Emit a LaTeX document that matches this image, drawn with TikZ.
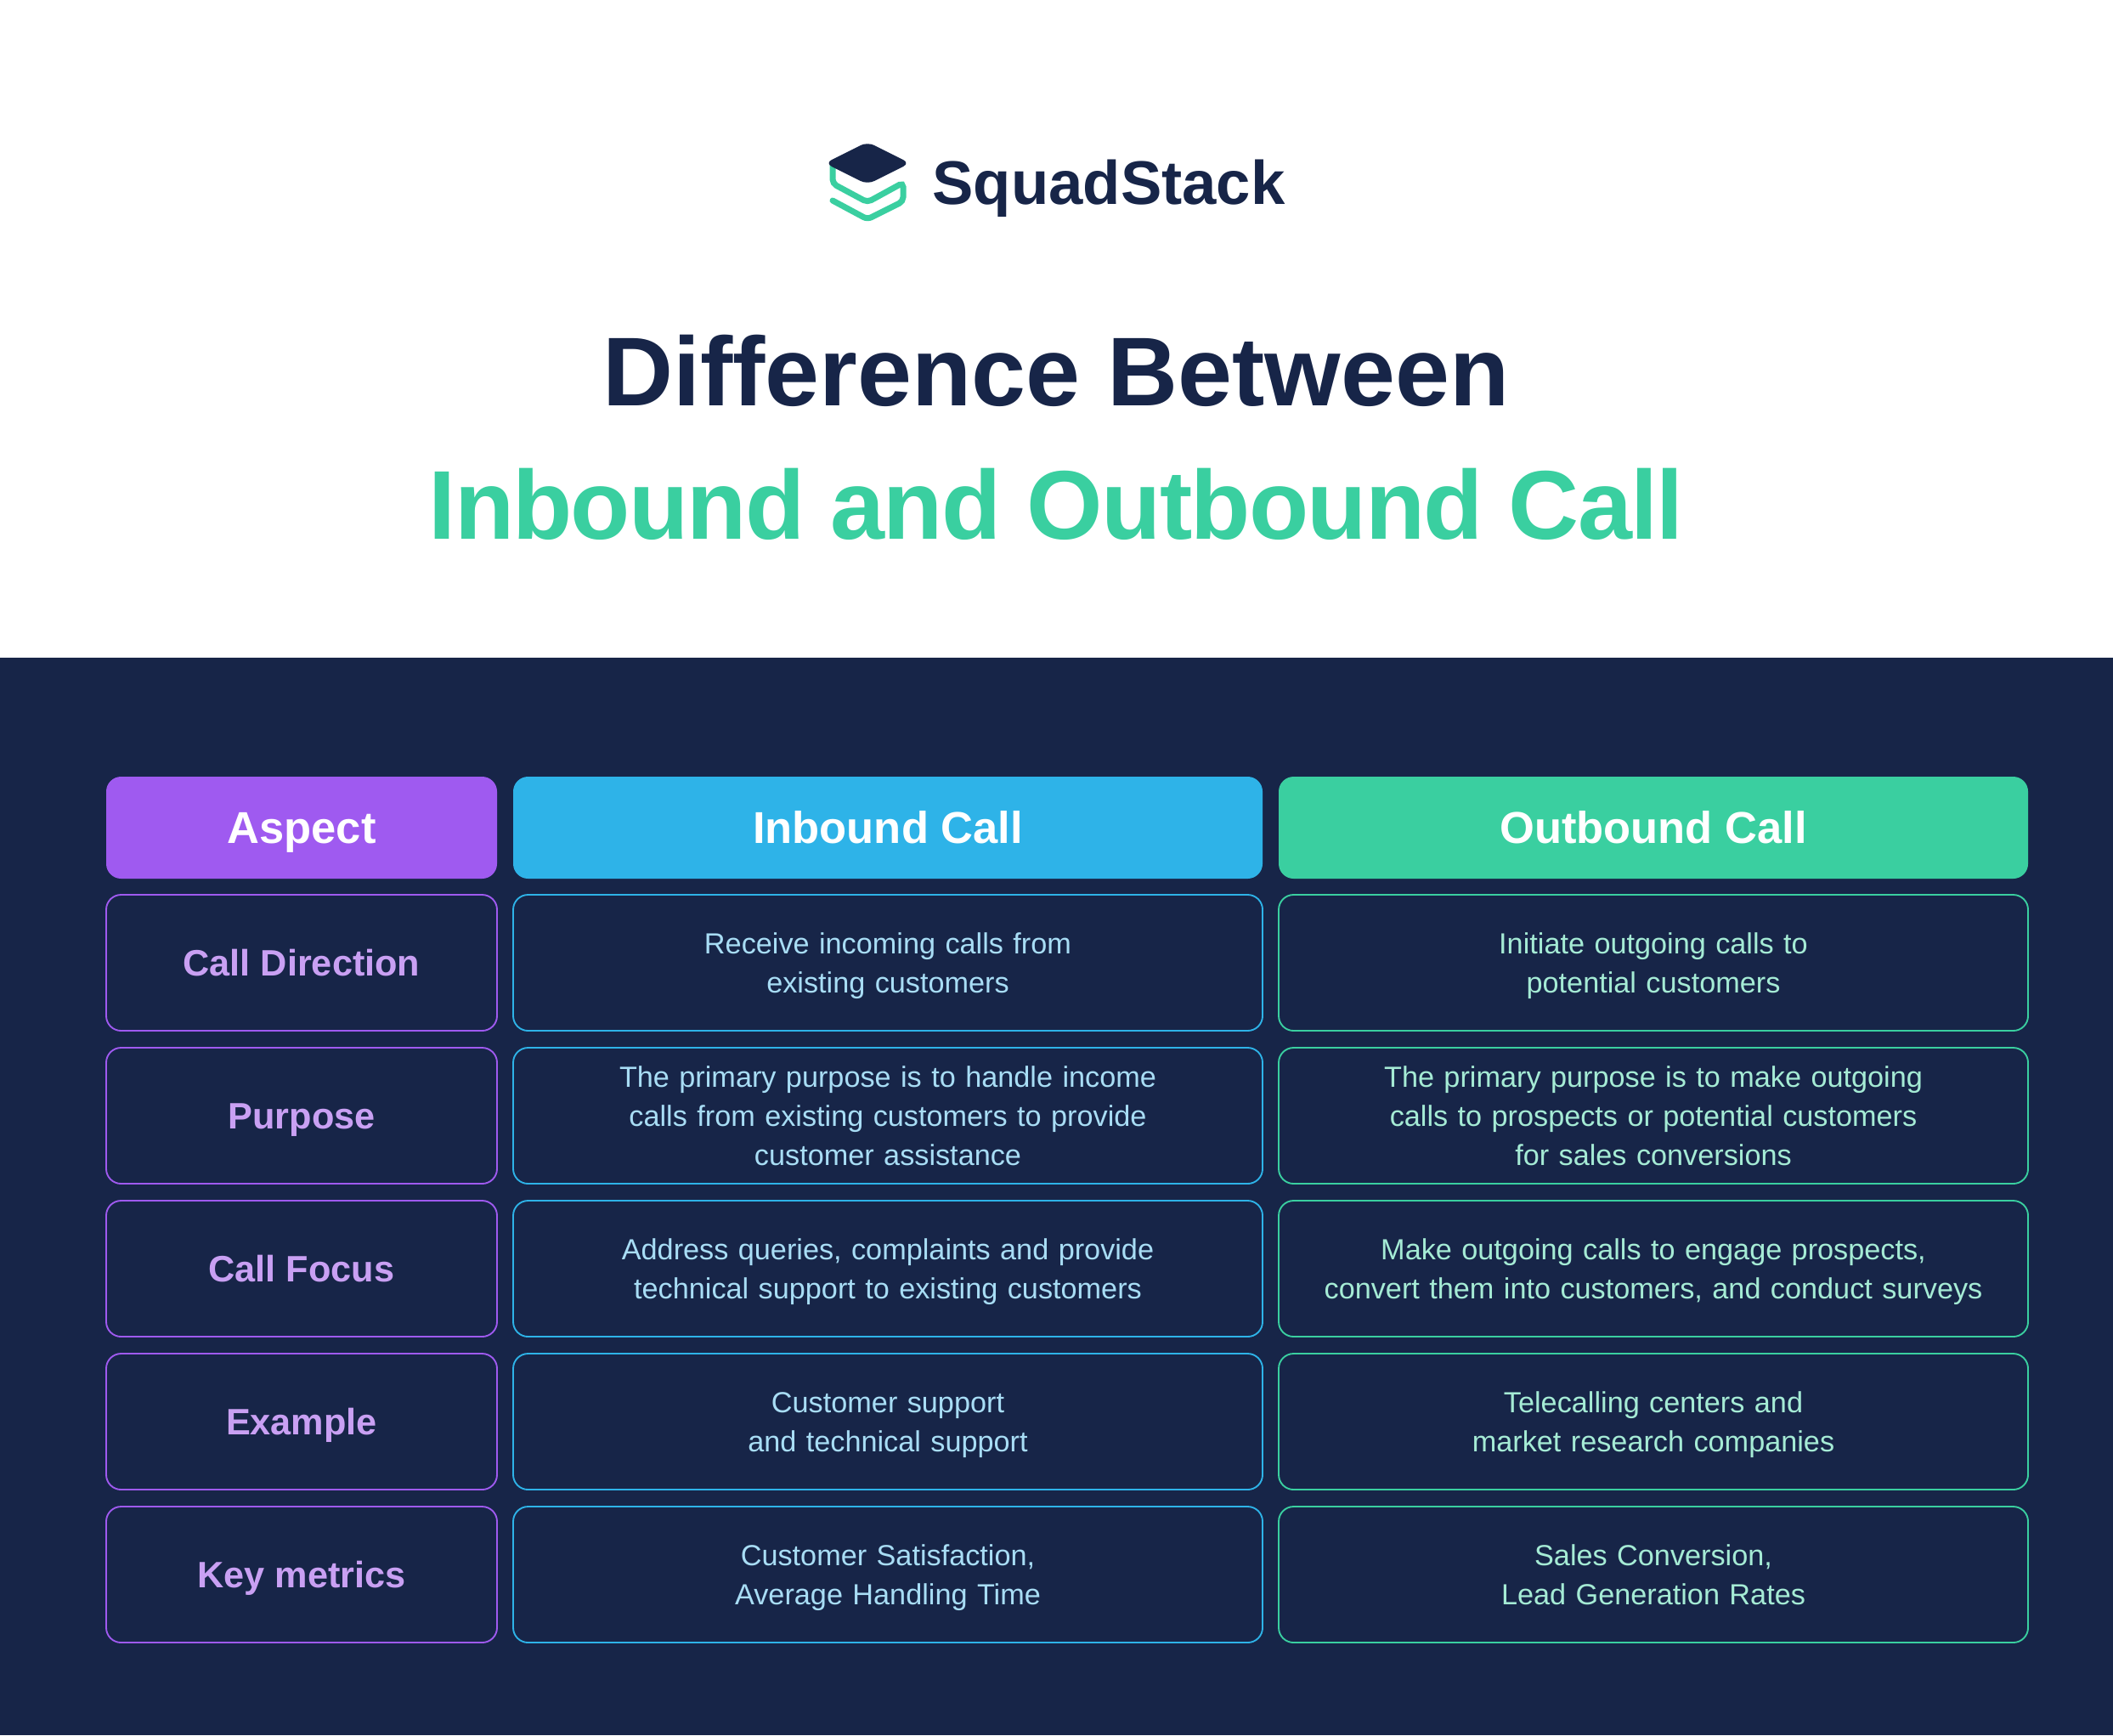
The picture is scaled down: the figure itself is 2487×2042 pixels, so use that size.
\documentclass[tikz,border=0pt]{standalone}
\usepackage{fontspec}
\setmainfont{Liberation Sans}
\usetikzlibrary{positioning}
\definecolor{navy}{HTML}{172548}
\definecolor{mint}{HTML}{3ACFA0}
\definecolor{violet}{HTML}{9F5AF0}
\definecolor{sky}{HTML}{2EB3E8}
\definecolor{violettext}{HTML}{C9A0F3}
\definecolor{skytext}{HTML}{A8DDF5}
\definecolor{minttext}{HTML}{A5EBD5}

\tikzset{
  box/.style={rounded corners=7pt,outer sep=0,inner sep=0,align=center,minimum height=64pt,line width=.75pt,
    execute at begin node=\rule{0pt}{.97em},execute at end node=\rule[-.25em]{0pt}{.25em}},
  head/.style={box,minimum height=48pt,text=white,font=\fontsize{21}{25}\selectfont\bfseries},
  headside/.style={head,fill=violet,minimum width=184pt},
  headwide/.style={head,minimum width=352.8pt},
  side/.style={box,draw=violet,text=violettext,minimum width=184pt,font=\fontsize{17.3}{22}\selectfont\bfseries},
  cellin/.style={box,draw=sky,text=skytext,text width=352.8pt,font=\fontsize{13.7}{18.5}\selectfont},
  cellout/.style={box,draw=mint,text=minttext,text width=352.8pt,font=\fontsize{13.7}{18.5}\selectfont},
  title/.style={anchor=base,inner sep=0,font=\fontsize{46}{50}\selectfont\bfseries}
}

\begin{document}
\begin{tikzpicture}[x=.4pt,y=-.4pt]
\useasboundingbox (0,0) rectangle (2487,2042);
\fill[white] (0,0) rectangle (2487,774);
\fill[navy] (0,774) rectangle (2487,2042);

% logo
\draw[mint,line width=2.8pt,rounded corners=2pt,line cap=round]
  (980,195) -- (980,216) -- (1021,238) -- (1063,215) -- (1063,237) -- (1021,258) -- (980,236);
\fill[navy,rounded corners=3.5pt] (971,192) -- (1021,167) -- (1071,192) -- (1021,217) -- cycle;
\node[anchor=base west,inner sep=0,text=navy,font=\fontsize{29}{32}\selectfont\bfseries] (brand) at (1097,240) {SquadStack};

\node[title,text=navy] (line1) at (1243,477) {Difference Between};
\node[title,text=mint] (line2) at (1243,634) {\addfontfeature{LetterSpace=-1.55}Inbound and Outbound Call};

% header row
\node[headside,anchor=north west] (aspect) at (125,914) {Aspect};
\node[headwide,fill=sky,right=7.6pt of aspect] (inbound) {Inbound Call};
\node[headwide,fill=mint,right=7.6pt of inbound] (outbound) {Outbound Call};

% rows
\node[side,below=7.6pt of aspect] (dir) {Call Direction};
\node[cellin,below=7.6pt of inbound] (dir-in) {Receive incoming calls from\\existing customers};
\node[cellout,below=7.6pt of outbound] (dir-out) {Initiate outgoing calls to\\potential customers};

\node[side,below=8pt of dir] (purpose) {Purpose};
\node[cellin,below=8pt of dir-in] (purpose-in) {The primary purpose is to handle income\\calls from existing customers to provide\\customer assistance};
\node[cellout,below=8pt of dir-out] (purpose-out) {The primary purpose is to make outgoing\\calls to prospects or potential customers\\for sales conversions};

\node[side,below=8pt of purpose] (focus) {Call Focus};
\node[cellin,below=8pt of purpose-in] (focus-in) {Address queries, complaints and provide\\technical support to existing customers};
\node[cellout,below=8pt of purpose-out] (focus-out) {Make outgoing calls to engage prospects,\\convert them into customers, and conduct surveys};

\node[side,below=8pt of focus] (example) {Example};
\node[cellin,below=8pt of focus-in] (example-in) {Customer support\\and technical support};
\node[cellout,below=8pt of focus-out] (example-out) {Telecalling centers and\\market research companies};

\node[side,below=8pt of example] (metrics) {Key metrics};
\node[cellin,below=8pt of example-in] (metrics-in) {Customer Satisfaction,\\Average Handling Time};
\node[cellout,below=8pt of example-out] (metrics-out) {Sales Conversion,\\Lead Generation Rates};
\end{tikzpicture}
\end{document}
